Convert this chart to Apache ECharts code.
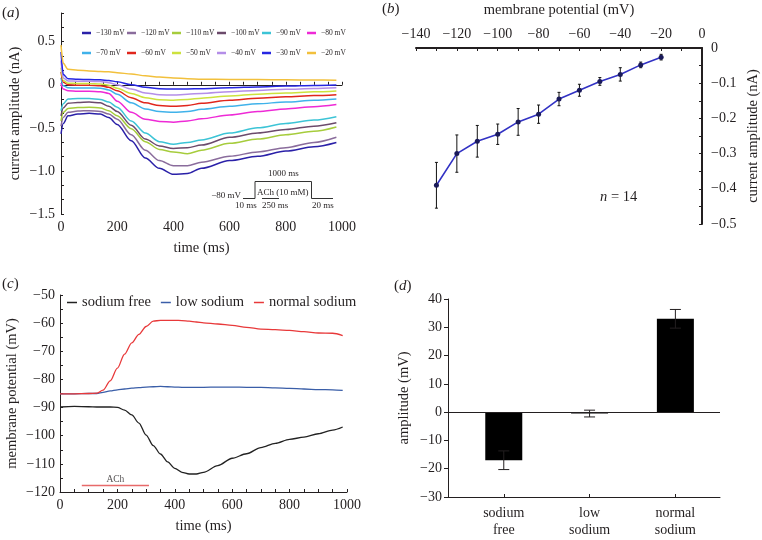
<!DOCTYPE html>
<html><head><meta charset="utf-8">
<script src="https://cdn.jsdelivr.net/npm/echarts@6/dist/echarts.min.js"></script>
<style>html,body{margin:0;padding:0;background:#fff}#c{width:762px;height:540px}</style>
</head><body><div id="c"></div>
<script>
// ---------- Panel (a) data ----------
const A_TIME = [0, 8, 25, 60, 100, 140, 170, 200, 250, 300, 350, 400, 450, 500, 600, 700, 800, 900, 980];
const A_NAMES = ['\u2212130 mV','\u2212120 mV','\u2212110 mV','\u2212100 mV','\u221290 mV','\u221280 mV',
                 '\u221270 mV','\u221260 mV','\u221250 mV','\u221240 mV','\u221230 mV','\u221220 mV'];
const A_M130 = [-0.57,-0.45,-0.36,-0.34,-0.33,-0.34,-0.38,-0.46,-0.65,-0.85,-0.97,-1.04,-1.03,-0.97,-0.88,-0.83,-0.77,-0.72,-0.67];
const A_M120 = [-0.48,-0.38,-0.32,-0.305,-0.30,-0.31,-0.34,-0.40,-0.58,-0.76,-0.88,-0.94,-0.94,-0.90,-0.83,-0.78,-0.73,-0.67,-0.61];
const A_M110 = [-0.42,-0.32,-0.275,-0.265,-0.26,-0.27,-0.30,-0.36,-0.51,-0.66,-0.75,-0.78,-0.80,-0.76,-0.68,-0.63,-0.58,-0.54,-0.49];
const A_M100 = [-0.36,-0.27,-0.215,-0.205,-0.20,-0.21,-0.25,-0.31,-0.47,-0.63,-0.71,-0.74,-0.73,-0.70,-0.61,-0.56,-0.52,-0.48,-0.44];
const A_M90  = [-0.30,-0.22,-0.165,-0.16,-0.16,-0.17,-0.20,-0.26,-0.42,-0.56,-0.66,-0.69,-0.67,-0.64,-0.56,-0.50,-0.45,-0.41,-0.37];
const A_M80  = [0.02,-0.05,-0.07,-0.075,-0.075,-0.08,-0.10,-0.19,-0.32,-0.40,-0.425,-0.435,-0.42,-0.395,-0.35,-0.31,-0.28,-0.255,-0.23];
const A_M70  = [0.08,-0.01,-0.035,-0.037,-0.037,-0.04,-0.06,-0.11,-0.21,-0.28,-0.31,-0.32,-0.31,-0.285,-0.25,-0.22,-0.20,-0.18,-0.165];
const A_M60  = [0.15,0.03,0.0,-0.005,-0.006,-0.01,-0.03,-0.07,-0.15,-0.21,-0.24,-0.25,-0.24,-0.215,-0.18,-0.155,-0.14,-0.125,-0.115];
const A_M50  = [0.20,0.05,0.018,0.015,0.014,0.01,-0.005,-0.04,-0.10,-0.15,-0.175,-0.18,-0.17,-0.155,-0.13,-0.11,-0.095,-0.082,-0.072];
const A_M40  = [0.28,0.08,0.045,0.042,0.04,0.037,0.025,0.0,-0.05,-0.095,-0.115,-0.12,-0.11,-0.10,-0.08,-0.065,-0.052,-0.043,-0.035];
const A_M30  = [0.38,0.12,0.07,0.063,0.06,0.058,0.05,0.035,0.0,-0.03,-0.045,-0.05,-0.048,-0.045,-0.035,-0.025,-0.015,-0.008,-0.003];
const A_M20  = [0.46,0.25,0.18,0.17,0.16,0.155,0.15,0.14,0.125,0.105,0.09,0.08,0.07,0.065,0.062,0.06,0.058,0.055,0.053];
const A_SERIES = [A_M130,A_M120,A_M110,A_M100,A_M90,A_M80,A_M70,A_M60,A_M50,A_M40,A_M30,A_M20];
const A_YTICKS = [-1.5,-1.3333,-1.1667,-1,-0.8333,-0.6667,-0.5,-0.3333,-0.1667,0,0.1667,0.3333,0.5,0.6667,0.8333];
const A_YLABELS = [-1.5,-1,-0.5,0,0.5];

// ---------- Panel (b) data ----------
const B_POT = [-130,-120,-110,-100,-90,-80,-70,-60,-50,-40,-30,-20];
const B_MEAN = [-0.39,-0.30,-0.265,-0.245,-0.21,-0.188,-0.145,-0.12,-0.095,-0.075,-0.048,-0.026];
const B_ERR = [0.065,0.053,0.045,0.029,0.038,0.026,0.019,0.017,0.011,0.019,0.008,0.008];

// ---------- Panel (c) data ----------
const C_TIME = [0,50,100,128,150,175,200,225,250,275,300,325,350,375,400,425,450,475,500,550,600,650,700,750,800,850,900,950,985];
const C_NORMAL = [-85.1,-85.1,-85.0,-84.9,-83.8,-80.5,-76.0,-71.0,-67.0,-64.0,-61.2,-59.3,-59.0,-59.0,-59.0,-59.1,-59.3,-59.6,-59.9,-60.3,-60.8,-61.5,-62.1,-62.3,-62.6,-63.0,-63.5,-63.6,-64.4];
const C_LOW = [-85.1,-85.1,-85.0,-85.0,-84.6,-84.1,-83.7,-83.4,-83.1,-82.9,-82.7,-82.6,-82.5,-82.6,-82.7,-82.8,-82.8,-82.8,-82.8,-82.7,-82.7,-82.8,-82.8,-83.0,-83.2,-83.4,-83.6,-83.7,-83.9];
const C_FREE = [-89.8,-89.6,-89.7,-89.8,-89.8,-89.8,-89.9,-90.9,-92.6,-95.5,-99.8,-103.5,-106.5,-109.3,-111.6,-113.0,-113.6,-113.6,-113.0,-110.6,-108.0,-106.4,-104.2,-102.7,-101.3,-100.5,-99.3,-98.0,-96.9];
const C_NAMES = ['sodium free','low sodium','normal sodium'];
const C_ACH_START = 76, C_ACH_END = 310, C_ACH_LEVEL = -117.7;

// ---------- Panel (d) data ----------
const D_CATS = ['sodium\nfree','low\nsodium','normal\nsodium'];
const D_POS = [1,2,3];
const D_VALUES = [-17,-0.5,33];
const D_ERRORS = [3.3,1.2,3.3];

// ---------- styles ----------
const FONT = 'Liberation Serif';
const TXT = '#231f20';
const A_COLORS = ['#2a20a8','#8a6c9c','#a6cc3c','#6b4a6b','#3cc4d6','#ee2ad6','#40b2ea','#e0261c','#cde23e','#b48ee8','#2626e2','#f2c03c'];
const C_COLORS = ['#222222','#3a5ea8','#e8393a'];

const minus = s => s.replace('-', '\u2212');
function fmt(v, d) { if (Math.abs(v) < 1e-9) return '0'; return minus(v.toFixed(d)); }

function errRender(capW, color) {
  return function (params, api) {
    const x = api.value(0), lo = api.value(1), hi = api.value(2);
    const p1 = api.coord([x, hi]), p2 = api.coord([x, lo]);
    const st = { stroke: color, lineWidth: 1 };
    return { type: 'group', children: [
      { type: 'line', shape: { x1: p1[0], y1: p1[1], x2: p2[0], y2: p2[1] }, style: st },
      { type: 'line', shape: { x1: p1[0]-capW, y1: p1[1], x2: p1[0]+capW, y2: p1[1] }, style: st },
      { type: 'line', shape: { x1: p2[0]-capW, y1: p2[1], x2: p2[0]+capW, y2: p2[1] }, style: st }
    ]};
  };
}

const axisText = { color: TXT, fontFamily: FONT, fontSize: 14 };
const nameText = { color: TXT, fontFamily: FONT, fontSize: 14.5 };
const lineSt = { color: '#231f20', width: 1 };

const series = [];
A_SERIES.forEach((vals, i) => {
  series.push({
    name: A_NAMES[i], type: 'line', xAxisIndex: 0, yAxisIndex: 0,
    data: A_TIME.map((t, k) => [t, vals[k]]),
    showSymbol: false, smooth: 0.3, smoothMonotone: 'x',
    lineStyle: { width: 1.5, color: A_COLORS[i] }, itemStyle: { color: A_COLORS[i] }, z: 3
  });
});
series.push({
  name: 'iv', type: 'line', xAxisIndex: 1, yAxisIndex: 1,
  data: B_POT.map((p, i) => [p, B_MEAN[i]]),
  lineStyle: { width: 1.6, color: '#3232c4' }, symbol: 'circle', symbolSize: 5,
  itemStyle: { color: '#1a1a5a' }, z: 3
});
series.push({
  type: 'custom', xAxisIndex: 1, yAxisIndex: 1,
  data: B_POT.map((p, i) => [p, B_MEAN[i]-B_ERR[i], B_MEAN[i]+B_ERR[i]]),
  renderItem: errRender(1.5, '#111'), z: 2
});
[C_FREE, C_LOW, C_NORMAL].forEach((vals, i) => {
  series.push({
    name: C_NAMES[i], type: 'line', xAxisIndex: 2, yAxisIndex: 2,
    data: C_TIME.map((t, k) => [t, vals[k]]),
    showSymbol: false, smooth: 0.3, smoothMonotone: 'x',
    lineStyle: { width: 1.3, color: C_COLORS[i] }, itemStyle: { color: C_COLORS[i] }
  });
});
series.push({
  name: 'ACh', type: 'line', xAxisIndex: 2, yAxisIndex: 2,
  data: [[C_ACH_START, C_ACH_LEVEL], [C_ACH_END, C_ACH_LEVEL]],
  showSymbol: false, lineStyle: { width: 1.5, color: '#e86a6a' }
});
series.push({
  type: 'scatter', xAxisIndex: 2, yAxisIndex: 2, symbolSize: 0,
  data: [[(C_ACH_START + C_ACH_END) / 2, C_ACH_LEVEL]],
  label: { show: true, position: 'top', distance: 1, formatter: 'ACh', fontFamily: FONT, fontSize: 9.5, color: TXT }
});
series.push({
  type: 'bar', xAxisIndex: 3, yAxisIndex: 3, barWidth: 37,
  data: D_POS.map((p, i) => [p, D_VALUES[i]]),
  itemStyle: { color: '#000' },
  markLine: { silent: true, symbol: 'none', label: { show: false },
    lineStyle: { color: '#231f20', width: 1, type: 'solid' }, data: [{ yAxis: 0 }] }
});
series.push({
  type: 'custom', xAxisIndex: 3, yAxisIndex: 3,
  data: D_POS.map((p, i) => [p, D_VALUES[i]-D_ERRORS[i], D_VALUES[i]+D_ERRORS[i]]),
  renderItem: errRender(5.5, '#231f20'), z: 5
});

const lgA = {
  icon: 'rect', itemWidth: 9, itemHeight: 2.5, itemGap: 1, padding: 0,
  textStyle: { fontFamily: FONT, fontSize: 7.5, color: TXT, width: 30, lineHeight: 10 }
};

const panelLabel = (l, x, y) => ({ type: 'text', left: x, top: y,
  style: { text: '({i|' + l + '})', fontFamily: FONT, fontSize: 15, fill: TXT,
    rich: { i: { fontStyle: 'italic', fontFamily: FONT, fontSize: 15, fill: TXT } } } });
const smallText = (t, x, y, align) => ({ type: 'text', x: x, y: y,
  style: { text: t, fontFamily: FONT, fontSize: 9, fill: TXT, align: align || 'left', verticalAlign: 'middle' } });

const option = {
  animation: false,
  backgroundColor: '#fff',
  grid: [
    { left: 61, top: 13, width: 281, height: 201 },
    { left: 416, top: 48, width: 286, height: 176 },
    { left: 60, top: 295, width: 287, height: 197 },
    { left: 448, top: 299, width: 272, height: 198 }
  ],
  legend: [
    Object.assign({ left: 82, top: 28, data: A_NAMES.slice(0, 6) }, lgA),
    Object.assign({ left: 82, top: 48, data: A_NAMES.slice(6) }, lgA),
    { left: 67, top: 295, data: C_NAMES, icon: 'rect', itemWidth: 10, itemHeight: 1.5, itemGap: 10, padding: 0,
      textStyle: { fontFamily: FONT, fontSize: 14.5, color: TXT } }
  ],
  xAxis: [
    { gridIndex: 0, type: 'value', min: 0, max: 1000, interval: 50,
      name: 'time (ms)', nameLocation: 'middle', nameGap: 27, nameTextStyle: nameText,
      axisLine: { lineStyle: lineSt }, axisTick: { inside: true, length: 3, lineStyle: lineSt },
      axisLabel: Object.assign({ margin: 6, formatter: v => (v % 200 === 0 ? String(v) : '') }, axisText),
      splitLine: { show: false } },
    { gridIndex: 1, type: 'value', position: 'top', min: -140, max: 0, interval: 10,
      name: 'membrane potential (mV)', nameLocation: 'middle', nameGap: 30, nameTextStyle: nameText,
      axisLine: { onZero: false, lineStyle: { color: '#231f20', width: 2 } },
      axisTick: { inside: true, length: 3, lineStyle: lineSt },
      axisLabel: Object.assign({ margin: 7, formatter: v => (v % 20 === 0 ? fmt(v, 0) : '') }, axisText),
      splitLine: { show: false } },
    { gridIndex: 2, type: 'value', min: 0, max: 1000, interval: 50,
      name: 'time (ms)', nameLocation: 'middle', nameGap: 27, nameTextStyle: nameText,
      axisLine: { lineStyle: lineSt }, axisTick: { inside: true, length: 3, lineStyle: lineSt },
      axisLabel: Object.assign({ margin: 6, formatter: v => (v % 200 === 0 ? String(v) : '') }, axisText),
      splitLine: { show: false } },
    { gridIndex: 3, type: 'value', min: 0.35, max: 3.52,
      axisLine: { onZero: false, lineStyle: lineSt },
      axisTick: { inside: true, length: 3, lineStyle: lineSt, customValues: D_POS },
      axisLabel: Object.assign({ margin: 8, lineHeight: 17, customValues: D_POS,
        formatter: v => D_CATS[Math.round(v) - 1] }, axisText),
      splitLine: { show: false } }
  ],
  yAxis: [
    { gridIndex: 0, type: 'value', min: -1.5, max: 0.8333,
      name: 'current amplitude (nA)', nameLocation: 'middle', nameGap: 38, nameRotate: 90, nameTextStyle: nameText,
      axisLine: { show: true, onZero: false, lineStyle: lineSt },
      axisTick: { show: true, inside: true, length: 3, lineStyle: lineSt, customValues: A_YTICKS },
      axisLabel: Object.assign({ margin: 6, customValues: A_YLABELS, formatter: v => fmt(v, 1) }, axisText),
      splitLine: { show: false } },
    { gridIndex: 1, type: 'value', position: 'right', min: -0.5, max: 0, interval: 0.05,
      name: 'current amplitude (nA)', nameLocation: 'middle', nameGap: 44, nameRotate: 90, nameTextStyle: nameText,
      axisLine: { show: true, onZero: false, lineStyle: { color: '#231f20', width: 2 } },
      axisTick: { show: true, inside: true, length: 3, lineStyle: lineSt },
      axisLabel: Object.assign({ margin: 9,
        formatter: v => (Math.abs(v * 10 - Math.round(v * 10)) < 1e-6 ? fmt(v, 1) : '') }, axisText),
      splitLine: { show: false } },
    { gridIndex: 2, type: 'value', min: -120, max: -50, interval: 5,
      name: 'membrane potential (mV)', nameLocation: 'middle', nameGap: 40, nameRotate: 90, nameTextStyle: nameText,
      axisLine: { show: true, onZero: false, lineStyle: lineSt },
      axisTick: { show: true, inside: true, length: 3, lineStyle: lineSt },
      axisLabel: Object.assign({ margin: 5, formatter: v => (v % 10 === 0 ? fmt(v, 0) : '') }, axisText),
      splitLine: { show: false } },
    { gridIndex: 3, type: 'value', min: -30, max: 40, interval: 10,
      name: 'amplitude (mV)', nameLocation: 'middle', nameGap: 36, nameRotate: 90, nameTextStyle: nameText,
      axisLine: { show: true, onZero: false, lineStyle: lineSt },
      axisTick: { show: true, inside: false, length: 4, lineStyle: lineSt },
      axisLabel: Object.assign({ margin: 6, formatter: v => fmt(v, 0) }, axisText),
      splitLine: { show: false } }
  ],
  series: series,
  graphic: [
    panelLabel('a', 2, 6),
    panelLabel('b', 382, 2),
    panelLabel('c', 2, 277),
    panelLabel('d', 394, 279),
    { type: 'polyline', shape: { points: [[243,198.5],[255,198.5],[255,181.5],[311.5,181.5],[311.5,198.5],[333,198.5]] },
      style: { stroke: '#333', lineWidth: 1, fill: null } },
    { type: 'line', shape: { x1: 262, y1: 198.5, x2: 279, y2: 198.5 }, style: { stroke: '#333', lineWidth: 1 } },
    smallText('\u221280 mV', 241, 195.5, 'right'),
    smallText('ACh (10 mM)', 257, 193),
    smallText('10 ms', 235, 206),
    smallText('250 ms', 262, 206),
    smallText('20 ms', 312, 206),
    smallText('1000 ms', 268, 174),
    { type: 'text', left: 600, top: 190,
      style: { text: '{i|n} = 14', fontFamily: FONT, fontSize: 14.5, fill: TXT,
        rich: { i: { fontStyle: 'italic', fontFamily: FONT, fontSize: 14.5, fill: TXT } } } }
  ]
};

const chart = echarts.init(document.getElementById('c'), null, { renderer: 'canvas' });
chart.setOption(option);
</script>
</body></html>
